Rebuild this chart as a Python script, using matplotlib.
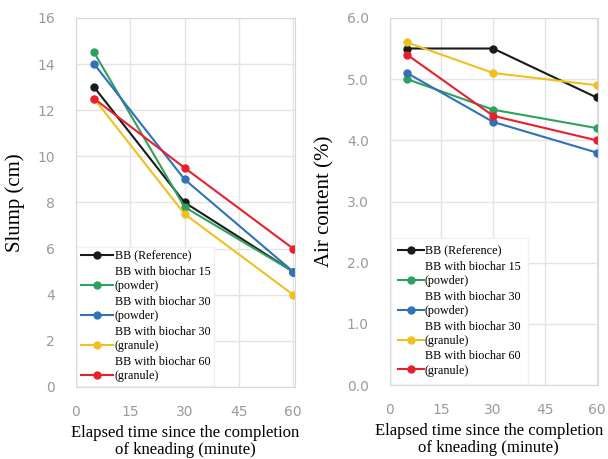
import matplotlib
matplotlib.use("Agg")
import matplotlib.pyplot as plt

time = [5, 30, 60]
labels = ["BB (Reference)",
          "BB with biochar 15\n(powder)",
          "BB with biochar 30\n(powder)",
          "BB with biochar 30\n(granule)",
          "BB with biochar 60\n(granule)"]
colors = ["#1a1a1a", "#2fa060", "#2f72b8", "#f0c020", "#e8202c"]

slump_ref = [13.0, 8.0, 5.0]
slump_bc15p = [14.5, 7.8, 5.0]
slump_bc30p = [14.0, 9.0, 5.0]
slump_bc30g = [12.5, 7.5, 4.0]
slump_bc60g = [12.5, 9.5, 6.0]

air_ref = [5.5, 5.5, 4.7]
air_bc15p = [5.0, 4.5, 4.2]
air_bc30p = [5.1, 4.3, 3.8]
air_bc30g = [5.6, 5.1, 4.9]
air_bc60g = [5.4, 4.4, 4.0]

slump = [slump_ref, slump_bc15p, slump_bc30p, slump_bc30g, slump_bc60g]
air = [air_ref, air_bc15p, air_bc30p, air_bc30g, air_bc60g]

serif = "Liberation Serif"
tick_color = "#9a9a9a"

fig = plt.figure(figsize=(6.08, 4.59), dpi=100)
ax1 = fig.add_axes([0.125, 0.157, 0.360, 0.804])
ax2 = fig.add_axes([0.641, 0.161, 0.343, 0.800])


def style(ax, ylim, yticks, yfmt, ylabel, label_x, xlabel_x):
    ax.set_xlim(0, 60.5)
    ax.set_ylim(*ylim)
    ax.set_xticks([0, 15, 30, 45, 60])
    ax.set_yticks(yticks)
    ax.set_yticklabels([yfmt.format(v) for v in yticks])
    ax.grid(True, color="#e4e4e4", lw=1.0)
    ax.set_axisbelow(True)
    for sp in ax.spines.values():
        sp.set_color("#d8d8d8")
    ax.tick_params(length=0, labelsize=10, labelcolor=tick_color)
    ax.tick_params(axis="y", pad=15)
    ax.tick_params(axis="x", pad=13)
    ax.set_ylabel(ylabel, fontfamily=serif, fontsize=15)
    ax.yaxis.set_label_coords(label_x, 0.5)
    ax.set_xlabel("Elapsed time since the completion\nof kneading (minute)",
                  fontfamily=serif, fontsize=12, linespacing=1.12)
    ax.xaxis.set_label_coords(xlabel_x, -0.102)


def legend(ax, handlelength, borderpad):
    leg = ax.legend(loc="lower left", prop={"family": serif, "size": 8.7},
                    handlelength=handlelength, handletextpad=0.1,
                    labelspacing=0.3, borderaxespad=0.1, borderpad=borderpad,
                    fancybox=False, framealpha=1.0, edgecolor="#f0f0f0")
    for t in leg.get_texts():
        t.set_linespacing(1.25)
    # put the marker next to the last line of two-line labels
    for row in leg._legend_handle_box.get_children():
        for pack in row.get_children():
            for child in pack.get_children():
                if hasattr(child, "_multilinebaseline"):
                    child._multilinebaseline = False
    return leg


for ys, lab, c in zip(slump, labels, colors):
    ax1.plot(time, ys, color=c, marker="o", ms=5, lw=1.5, label=lab)
style(ax1, (0, 16), [0, 2, 4, 6, 8, 10, 12, 14, 16], "{:.0f}", "Slump (cm)",
      -0.235, 0.5)
legend(ax1, 2.7, 0.3)

for ys, lab, c in zip(air, labels, colors):
    ax2.plot(time, ys, color=c, marker="o", ms=5, lw=1.5, label=lab)
style(ax2, (0, 6), [0, 1, 2, 3, 4, 5, 6], "{:.1f}", "Air content (%)",
      -0.265, 0.475)
legend(ax2, 2.1, 0.6)

fig.savefig("out.png", dpi=100)
